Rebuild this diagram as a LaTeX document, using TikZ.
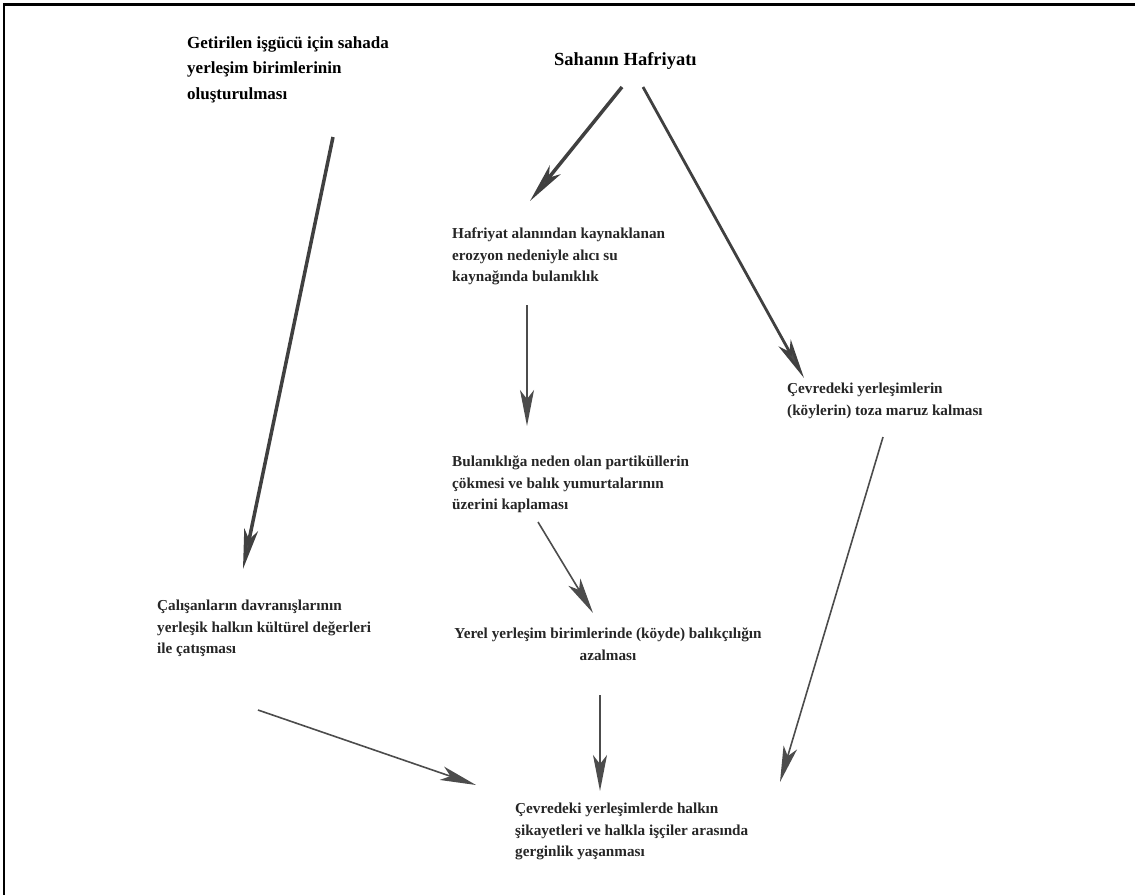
\documentclass[tikz,border=0pt]{standalone}
\usepackage{fontspec}
\setmainfont{Liberation Serif}
\usetikzlibrary{arrows.meta}
\begin{document}
\begin{tikzpicture}[x=1pt,y=-1pt,
  lbl/.style={inner sep=0pt,anchor=north west,align=left,font=\bfseries\fontsize{15.2}{21.3}\selectfont,text=black!85},
  head/.style={inner sep=0pt,anchor=north west,align=left,font=\bfseries\fontsize{17}{25.5}\selectfont},
  heavy/.style={draw=black!75,line width=3.5pt,-{Stealth[length=40pt,width=14pt,inset=10pt,fill=black!70]}},
  light/.style={draw=black!70,line width=1.6pt,-{Stealth[length=36pt,width=14pt,inset=9pt,fill=black!70]}}]
\useasboundingbox (0,0) rectangle (1135,895);
% frame: heavy top rule and thin left rule
\draw[line width=3pt] (3,4) -- (1135,4);
\draw[line width=1.5pt] (4,3) -- (4,895);

% texts
\node[head] (cmp) at (187,36) {Getirilen işgücü için sahada\\yerleşim birimlerinin\\oluşturulması};
\node[head,font=\bfseries\fontsize{18.5}{25.5}\selectfont] (haf) at (554,52) {Sahanın Hafriyatı};
\node[lbl] (ero) at (452,228) {Hafriyat alanından kaynaklanan\\erozyon nedeniyle alıcı su\\kaynağında bulanıklık};
\node[lbl] (cok) at (452,456) {Bulanıklığa neden olan partiküllerin\\çökmesi ve balık yumurtalarının\\üzerini kaplaması};
\node[lbl] (toz) at (787,383) {Çevredeki yerleşimlerin\\(köylerin) toza maruz kalması};
\node[lbl] (cat) at (157,600) {Çalışanların davranışlarının\\yerleşik halkın kültürel değerleri\\ile çatışması};
\node[lbl,anchor=north,align=center] (bal) at (608,628) {Yerel yerleşim birimlerinde (köyde) balıkçılığın\\azalması};
\node[lbl] (ger) at (515,803) {Çevredeki yerleşimlerde halkın\\şikayetleri ve halkla işçiler arasında\\gerginlik yaşanması};

% connector end points
\coordinate (cmpS) at (333,137);
\coordinate (catN) at (243,569);
\coordinate (hafL) at (622,87);
\coordinate (eroN) at (530,201);
\coordinate (hafR) at (643,87);
\coordinate (tozN) at (804,378);
\coordinate (eroS) at (527,305);
\coordinate (cokN) at (527,426);
\coordinate (cokS) at (538,522);
\coordinate (balN) at (593,613);
\coordinate (balS) at (600,695);
\coordinate (gerN) at (600,791);
\coordinate (tozS) at (883,437);
\coordinate (gerNE) at (780,782);
\coordinate (catS) at (258,710);
\coordinate (gerW) at (476,785);

% connectors
\draw[heavy] (cmpS) -- (catN);
\draw[heavy] (hafL) -- (eroN);
\draw[heavy,line width=2.8pt] (hafR) -- (tozN);
\draw[light] (eroS) -- (cokN);
\draw[light] (cokS) -- (balN);
\draw[light] (balS) -- (gerN);
\draw[light] (tozS) -- (gerNE);
\draw[light] (catS) -- (gerW);
\end{tikzpicture}
\end{document}
